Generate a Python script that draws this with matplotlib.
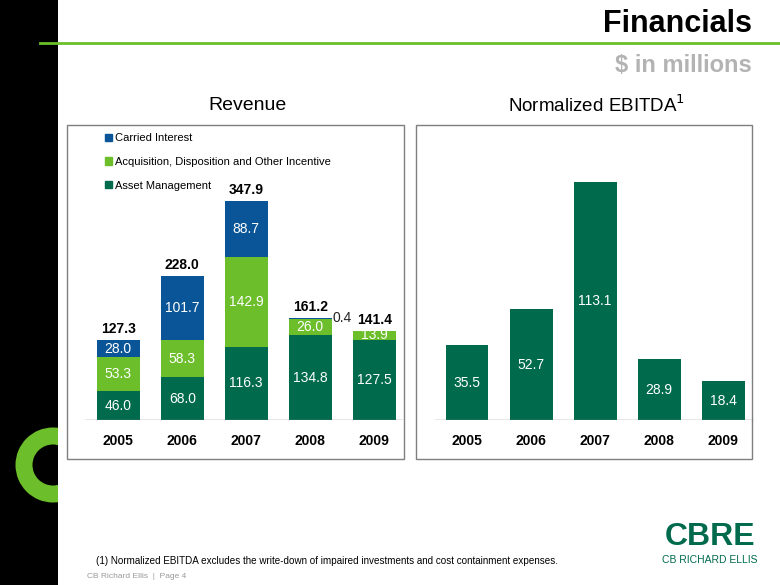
import matplotlib
matplotlib.use('Agg')
import matplotlib.pyplot as plt
from matplotlib.patches import Rectangle, Wedge, Patch
import numpy as np

plt.rcParams['font.family'] = ['Liberation Sans', 'DejaVu Sans']

# data
years = ['2005', '2006', '2007', '2008', '2009']
asset_mgmt = [46.0, 68.0, 116.3, 134.8, 127.5]
acq_disp = [53.3, 58.3, 142.9, 26.0, 13.9]
carried = [28.0, 101.7, 88.7, 0.4, 0.0]
revenue_total = [127.3, 228.0, 347.9, 161.2, 141.4]
ebitda = [35.5, 52.7, 113.1, 28.9, 18.4]

DARK_GREEN = '#006A4D'
LIGHT_GREEN = '#6CBE2B'
BLUE = '#0A5597'

W, H = 780, 585
fig = plt.figure(figsize=(7.8, 5.85), dpi=100)


def fx(px):
    return px / W


def fy(py):
    return 1 - py / H


# left black strip with the green ring
bg = fig.add_axes([0, 0, fx(58), 1])
bg.set_xlim(0, 58)
bg.set_ylim(585, 0)
bg.axis('off')
bg.add_patch(Rectangle((0, 0), 58, 585, facecolor='black', edgecolor='none'))
bg.add_patch(Wedge((53, 465), 37.5, 0, 360, width=17, facecolor=LIGHT_GREEN,
                   edgecolor='none'))

fig.add_artist(plt.Line2D([fx(40), 1], [fy(43), fy(43)], transform=fig.transFigure,
                          color=LIGHT_GREEN, linewidth=2))

fig.text(fx(752), fy(24), 'Financials', ha='right', va='center', fontsize=22,
         fontweight='bold', color='black')
fig.text(fx(752), fy(66), '$ in millions', ha='right', va='center', fontsize=17,
         fontweight='bold', color='#B3B3B3')

fig.text(fx(248), fy(105), 'Revenue', ha='center', va='center', fontsize=14)
fig.text(fx(597), fy(105), 'Normalized EBITDA$^{1}$', ha='center', va='center',
         fontsize=13.5)

# panel boxes
for x0, x1 in [(67, 404), (416, 752)]:
    fig.patches.append(Rectangle((fx(x0), fy(459)), fx(x1 - x0), (459 - 125) / H,
                                 transform=fig.transFigure, facecolor='none',
                                 edgecolor='#7F7F7F', linewidth=1))

x = np.arange(len(years))
bw = 0.67

# revenue
ax1 = fig.add_axes([fx(85), fy(420), fx(318), 290 / H])
ax1.bar(x, asset_mgmt, bw, color=DARK_GREEN)
ax1.bar(x, acq_disp, bw, bottom=asset_mgmt, color=LIGHT_GREEN)
bottom3 = np.array(asset_mgmt) + np.array(acq_disp)
ax1.bar(x, carried, bw, bottom=bottom3, color=BLUE)
ax1.set_xlim(-0.52, 4.45)
ax1.set_ylim(0, 460)

for i in range(len(years)):
    ax1.text(x[i], asset_mgmt[i] / 2, f'{asset_mgmt[i]:.1f}', ha='center',
             va='center', color='white', fontsize=10)
    ax1.text(x[i], asset_mgmt[i] + acq_disp[i] / 2, f'{acq_disp[i]:.1f}',
             ha='center', va='center', color='white', fontsize=10)
    if carried[i] >= 5:
        ax1.text(x[i], bottom3[i] + carried[i] / 2, f'{carried[i]:.1f}',
                 ha='center', va='center', color='white', fontsize=10)
    elif carried[i] > 0:
        ax1.text(x[i] + bw / 2 + 0.02, bottom3[i] + carried[i], f'{carried[i]:.1f}',
                 ha='left', va='center', color='#222222', fontsize=10)
    ax1.annotate(f'{revenue_total[i]:.1f}', (x[i], revenue_total[i]),
                 xytext=(0, 11), textcoords='offset pixels', ha='center',
                 va='center', fontsize=10, fontweight='bold')

handles = [Patch(color=BLUE), Patch(color=LIGHT_GREEN), Patch(color=DARK_GREEN)]
labels = ['Carried Interest', 'Acquisition, Disposition and Other Incentive',
          'Asset Management']
ax1.legend(handles, labels, loc='upper left', bbox_to_anchor=(fx(105), fy(133)),
           bbox_transform=fig.transFigure, frameon=False, fontsize=8,
           handlelength=0.6, handleheight=0.6, handletextpad=0.3,
           labelspacing=1.25, borderpad=0, borderaxespad=0)

# ebitda
ax2 = fig.add_axes([fx(435), fy(420), fx(319), 290 / H])
ax2.bar(x, ebitda, bw, color=DARK_GREEN)
ax2.set_xlim(-0.5, 4.48)
ax2.set_ylim(0, 138)
for i in range(len(years)):
    ax2.text(x[i], ebitda[i] / 2, f'{ebitda[i]:.1f}', ha='center', va='center',
             color='white', fontsize=10)

for ax in (ax1, ax2):
    ax.axhline(0, color='#808080', linewidth=1)
    for s in ax.spines.values():
        s.set_visible(False)
    ax.set_yticks([])
    ax.set_xticks(x)
    ax.set_xticklabels(years, fontsize=10, fontweight='bold')
    ax.tick_params(axis='x', length=0, pad=10)
    ax.patch.set_alpha(0)

fig.text(fx(96), fy(561), '(1) Normalized EBITDA excludes the write-down of impaired '
         'investments and cost containment expenses.', ha='left', va='center',
         fontsize=7.1)
fig.text(fx(87), fy(577), 'CB Richard Ellis  |  Page 4', ha='left', va='center',
         fontsize=6, color='#999999')

fig.text(fx(710), fy(537), 'CBRE', ha='center', va='center', fontsize=23,
         fontweight='bold', color=DARK_GREEN)
fig.text(fx(710), fy(560), 'CB RICHARD ELLIS', ha='center', va='center',
         fontsize=7.5, color=DARK_GREEN)

fig.savefig('out.png', dpi=100)
